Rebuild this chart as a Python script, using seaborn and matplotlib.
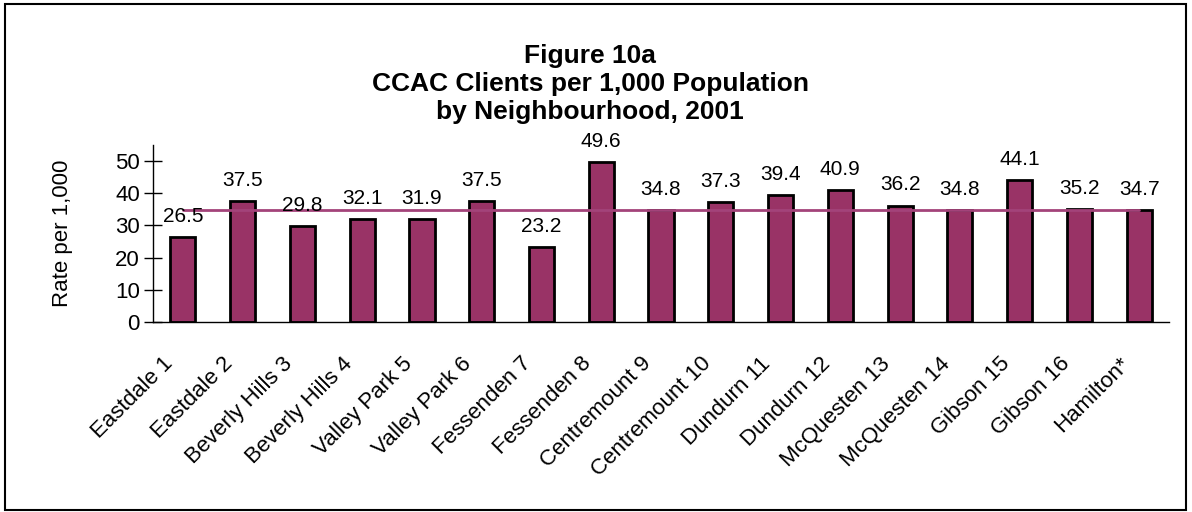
import numpy as np
import pandas as pd
import matplotlib
matplotlib.use('Agg')
import matplotlib.pyplot as plt
from matplotlib.patches import Rectangle
from matplotlib.ticker import FixedLocator
from matplotlib.transforms import ScaledTranslation
import seaborn as sns

# Данные
neighbourhoods = ['Eastdale 1', 'Eastdale 2', 'Beverly Hills 3', 'Beverly Hills 4',
                  'Valley Park 5', 'Valley Park 6', 'Fessenden 7', 'Fessenden 8',
                  'Centremount 9', 'Centremount 10', 'Dundurn 11', 'Dundurn 12',
                  'McQuesten 13', 'McQuesten 14', 'Gibson 15', 'Gibson 16', 'Hamilton*']
rates = [26.5, 37.5, 29.8, 32.1, 31.9, 37.5, 23.2, 49.6, 34.8,
         37.3, 39.4, 40.9, 36.2, 34.8, 44.1, 35.2, 34.7]
hamilton_rate = [34.7, 34.7, 34.7, 34.7, 34.7, 34.7, 34.7, 34.7, 34.7,
                 34.7, 34.7, 34.7, 34.7, 34.7, 34.7, 34.7, 34.7]
y_ticks = [0, 10, 20, 30, 40, 50]

df = pd.DataFrame({'район': neighbourhoods, 'показатель': rates})

sns.set_style('white')
plt.rcParams['font.family'] = ['Liberation Sans', 'DejaVu Sans']
plt.rcParams['text.color'] = 'black'
plt.rcParams['xtick.color'] = 'black'
plt.rcParams['ytick.color'] = 'black'
plt.rcParams['axes.labelcolor'] = 'black'

fig = plt.figure(figsize=(11.92, 5.12), dpi=100)
ax = fig.add_axes([0.1284, 0.371, 0.8523, 0.3458])

sns.barplot(data=df, x='район', y='показатель', color='#993366', saturation=1,
            width=0.42, edgecolor='black', linewidth=2, ax=ax)
sns.lineplot(x=np.arange(len(hamilton_rate)), y=hamilton_rate, color='#A3437A',
             linewidth=2, ax=ax)

# Подписи значений над столбцами
for i, v in enumerate(rates):
    ax.annotate(f'{v:.1f}', (i, v), xytext=(0, 8), textcoords='offset points',
                ha='center', va='bottom', fontsize=15)

ax.set_xlim(-0.5, len(neighbourhoods) - 0.5)
ax.set_ylim(0, 55)
ax.set_yticks(y_ticks)
ax.set_xticks(np.arange(len(neighbourhoods)))
ax.xaxis.set_minor_locator(FixedLocator(np.arange(-0.5, len(neighbourhoods), 1.0)))
ax.tick_params(axis='x', which='major', length=0, pad=22)
ax.tick_params(axis='x', which='minor', direction='inout', length=13, width=1, color='black')
ax.tick_params(axis='y', direction='inout', length=13, width=1, color='black',
               labelsize=16, pad=3, left=True)
ax.set_xticklabels(neighbourhoods, rotation=45, ha='right', va='center',
                   rotation_mode='anchor', fontsize=16)
# сдвиг подписей влево-вниз (после tick_params, иначе сбрасывается)
offset = ScaledTranslation(-13 / 100, -8 / 100, fig.dpi_scale_trans)
for lbl in ax.get_xticklabels():
    lbl.set_transform(lbl.get_transform() + offset)
ax.set_xlabel('')
ax.set_ylabel('Rate per 1,000', fontsize=16, labelpad=30)

for side in ['top', 'right']:
    ax.spines[side].set_visible(False)
for side in ['left', 'bottom']:
    ax.spines[side].set_color('black')
    ax.spines[side].set_linewidth(1)

fig.text(0.495, 0.836, 'Figure 10a\nCCAC Clients per 1,000 Population\nby Neighbourhood, 2001',
         ha='center', va='center', fontsize=19, fontweight='bold', linespacing=1.22)

# Рамка вокруг всего рисунка
fig.patches.append(Rectangle((5 / 1192, 2 / 512), 1181 / 1192, 506 / 512,
                             transform=fig.transFigure, fill=False,
                             edgecolor='black', linewidth=1.5))

fig.savefig('out.png', dpi=100)
